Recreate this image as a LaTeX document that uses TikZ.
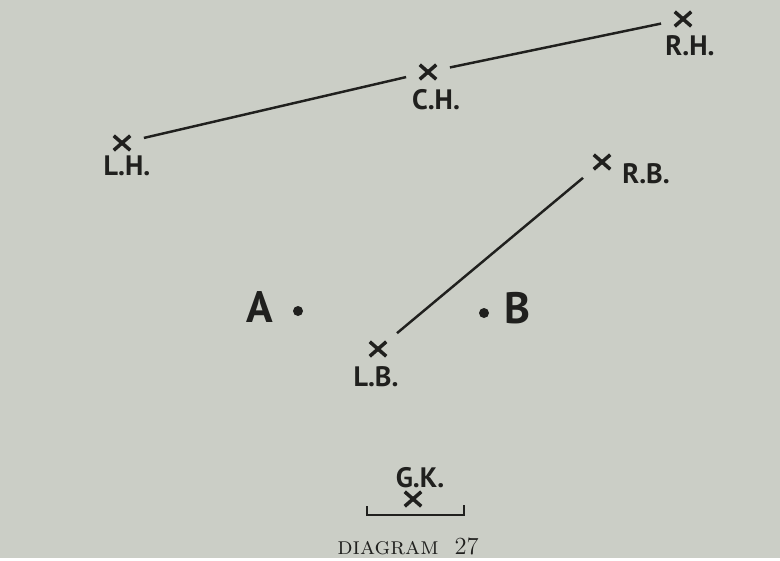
\documentclass[tikz,border=0pt]{standalone}
\usepackage{fontspec}
\setsansfont{PT Sans}
\usetikzlibrary{shapes.misc}
\definecolor{paper}{RGB}{203,206,198}
\definecolor{ink}{RGB}{32,32,30}
\begin{document}
\begin{tikzpicture}[x=0.02cm,y=-0.02cm]
\tikzstyle{player}=[cross out,draw=ink,line width=2pt,minimum width=0.26cm,minimum height=0.22cm,inner sep=0pt]
\tikzstyle{lbl}=[text=ink,font=\sffamily\bfseries\fontsize{16}{18}\selectfont,inner sep=0pt]
\tikzstyle{spot}=[circle,fill=ink,minimum size=0.2cm,inner sep=0pt]
\tikzstyle{link}=[ink,line width=1.4pt,shorten <=0.28cm,shorten >=0.28cm]
\fill[paper] (0,0) rectangle (780,558);
% players
\foreach \n/\x/\y/\t/\lx/\ly in {lh/122/143/L.H./127/166,ch/428/72/C.H./436/100,rh/683/19/R.H./690/46,rb/602/162/R.B./646/174,lb/378/349/L.B./376/377,gk/413/499/G.K./420/478}
{\node[player] (\n) at (\x,\y) {};
 \node[lbl] (\n l) at (\lx,\ly) {\t};}
% the two spots
\node[spot] (a) at (298,311) {};
\node[spot] (b) at (484,313) {};
\node[lbl,font=\sffamily\bfseries\fontsize{25}{28}\selectfont] (al) at (260,307) {A};
\node[lbl,font=\sffamily\bfseries\fontsize{25}{28}\selectfont] (bl) at (517,308) {B};
% lines
\draw[link] (lh) -- (ch);
\draw[link] (ch) -- (rh);
\draw[link] (rb) -- (lb);
% goal
\draw[ink,line width=1.3pt] (367,506) -- (367,515) -- (464,515) -- (464,505);
\node[text=ink,font=\fontsize{14}{16}\selectfont] (cap) at (408,546) {\textsc{diagram}\ \ 27};
\end{tikzpicture}
\end{document}
